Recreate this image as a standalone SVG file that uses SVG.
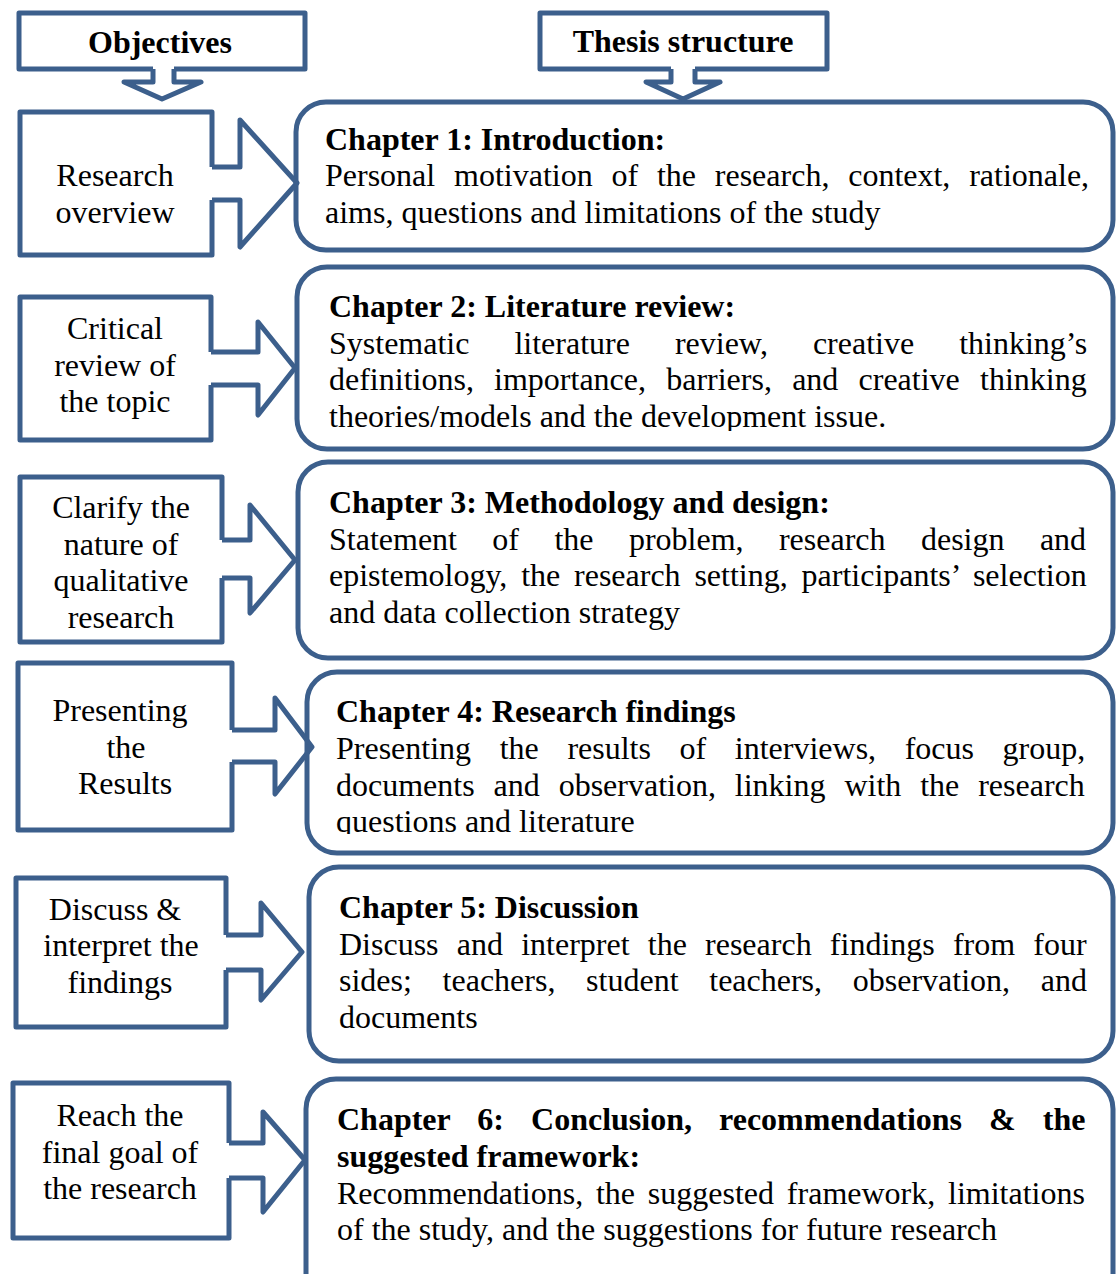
<svg xmlns="http://www.w3.org/2000/svg" width="1117" height="1274" viewBox="0 0 1117 1274">
  <style>
    .ln { fill: none; stroke: #3c5f8c; stroke-width: 5; stroke-linejoin: round; }
    .box { fill: #ffffff; stroke: #3c5f8c; stroke-width: 5; }
    text { font-family: "Liberation Serif", "Times New Roman", serif; font-size: 32px; fill: #000000; }
    .b { font-weight: bold; }
    .c { text-anchor: middle; }
  </style>
  <defs>
    <clipPath id="clip-ch2"><rect x="300" y="270" width="810" height="161"/></clipPath>
    <clipPath id="clip-ch4"><rect x="310" y="675" width="800" height="159"/></clipPath>
  </defs>

  <rect width="1117" height="1274" fill="#ffffff"/>

  <!-- chapter boxes (right column) -->
  <g id="chapter1">
    <rect class="box" x="296" y="102" width="817" height="148" rx="30"/>
    <text class="b" x="325" y="150">Chapter 1: Introduction:</text>
    <text x="325" y="186" style="word-spacing:10.8px">Personal motivation of the research, context, rationale,</text>
    <text x="325" y="223">aims, questions and limitations of the study</text>
  </g>

  <g id="chapter2">
    <rect class="box" x="297" y="267" width="816" height="182" rx="30"/>
    <g clip-path="url(#clip-ch2)">
      <text class="b" x="329" y="317">Chapter 2: Literature review:</text>
      <text x="329" y="354" style="word-spacing:37px">Systematic literature review, creative thinking’s</text>
      <text x="329" y="390" style="word-spacing:12.2px">definitions, importance, barriers, and creative thinking</text>
      <text x="329" y="427">theories/models and the development issue.</text>
    </g>
  </g>

  <g id="chapter3">
    <rect class="box" x="298" y="462" width="815" height="196" rx="30"/>
    <text class="b" x="329" y="513">Chapter 3: Methodology and design:</text>
    <text x="329" y="550" style="word-spacing:27.4px">Statement of the problem, research design and</text>
    <text x="329" y="586" style="word-spacing:5.8px">epistemology, the research setting, participants’ selection</text>
    <text x="329" y="623">and data collection strategy</text>
  </g>

  <g id="chapter4">
    <rect class="box" x="307" y="672" width="806" height="181" rx="30"/>
    <g clip-path="url(#clip-ch4)">
      <text class="b" x="336" y="722">Chapter 4: Research findings</text>
      <text x="336" y="759" style="word-spacing:20.6px">Presenting the results of interviews, focus group,</text>
      <text x="336" y="796" style="word-spacing:10.9px">documents and observation, linking with the research</text>
      <text x="336" y="832">questions and literature</text>
    </g>
  </g>

  <g id="chapter5">
    <rect class="box" x="309" y="867" width="804" height="194" rx="30"/>
    <text class="b" x="339" y="918">Chapter 5: Discussion</text>
    <text x="339" y="955" style="word-spacing:10.2px">Discuss and interpret the research findings from four</text>
    <text x="339" y="991" style="word-spacing:22.7px">sides; teachers, student teachers, observation, and</text>
    <text x="339" y="1028">documents</text>
  </g>

  <g id="chapter6">
    <rect class="box" x="306" y="1079" width="807" height="240" rx="30"/>
    <text class="b" x="337" y="1130" style="word-spacing:19.1px">Chapter 6: Conclusion, recommendations &amp; the</text>
    <text class="b" x="337" y="1167">suggested framework:</text>
    <text x="337" y="1204" style="word-spacing:4.8px">Recommendations, the suggested framework, limitations</text>
    <text x="337" y="1240">of the study, and the suggestions for future research</text>
  </g>

  <!-- header boxes -->
  <g id="objectives">
    <path class="ln" d="M153,69 H19 V13 H305 V69 H174"/>
    <text class="b c" x="160" y="53">Objectives</text>
  </g>
  <g id="thesis-structure">
    <path class="ln" d="M671,69 H540 V13 H827 V69 H695"/>
    <text class="b c" x="683" y="52">Thesis structure</text>
  </g>

  <!-- objective boxes (left column) -->
  <g id="research-overview">
    <path class="ln" d="M212,167 V112 H20 V255 H212 V200"/>
    <text class="c" x="115" y="186">Research</text>
    <text class="c" x="115" y="223">overview</text>
  </g>
  <g id="critical-review">
    <path class="ln" d="M211,352 V297 H20 V440 H211 V385"/>
    <text class="c" x="115" y="339">Critical</text>
    <text class="c" x="115" y="376">review of</text>
    <text class="c" x="115" y="412">the topic</text>
  </g>
  <g id="clarify-nature">
    <path class="ln" d="M222,540 V477 H20 V642 H222 V578"/>
    <text class="c" x="121" y="518">Clarify the</text>
    <text class="c" x="121" y="555">nature of</text>
    <text class="c" x="121" y="591">qualitative</text>
    <text class="c" x="121" y="628">research</text>
  </g>
  <g id="presenting-results">
    <path class="ln" d="M232,730 V663 H18 V830 H232 V762"/>
    <text class="c" x="120" y="721">Presenting</text>
    <text class="c" x="126" y="758">the</text>
    <text class="c" x="125" y="794">Results</text>
  </g>
  <g id="discuss-interpret">
    <path class="ln" d="M226,935 V878 H16 V1027 H226 V970"/>
    <text class="c" x="115" y="920">Discuss &amp;</text>
    <text class="c" x="121" y="956">interpret the</text>
    <text class="c" x="120" y="993">findings</text>
  </g>
  <g id="final-goal">
    <path class="ln" d="M229,1143 V1083 H13 V1238 H229 V1178"/>
    <text class="c" x="120" y="1126">Reach the</text>
    <text class="c" x="120" y="1163">final goal of</text>
    <text class="c" x="120" y="1199">the research</text>
  </g>

  <!-- block arrows linking the boxes -->
  <g id="connectors">
    <path class="ln" d="M153,69 V82 H124 L162,99 L201,82 H174 V69"/>
    <path class="ln" d="M671,69 V82 H646 L683,99 L720,82 H695 V69"/>
    <path class="ln" d="M212,167 H240 V120 L297,183 L240,247 V200 H212"/>
    <path class="ln" d="M211,352 H258 V322 L295,368 L258,415 V385 H211"/>
    <path class="ln" d="M222,540 H250 V505 L295,560 L250,613 V578 H222"/>
    <path class="ln" d="M232,730 H275 V698 L312,747 L275,794 V762 H232"/>
    <path class="ln" d="M226,935 H261 V903 L302,952 L261,1000 V970 H226"/>
    <path class="ln" d="M229,1143 H263 V1112 L305,1160 L263,1212 V1178 H229"/>
  </g>
</svg>
